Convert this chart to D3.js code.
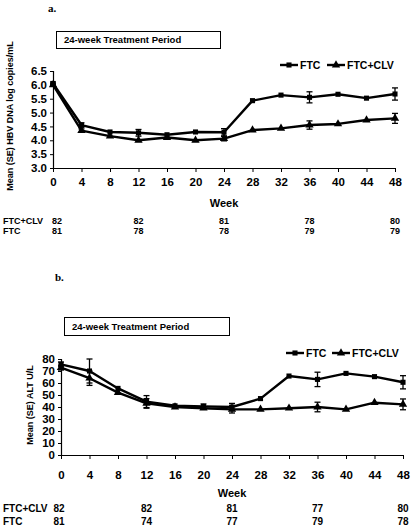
<!DOCTYPE html>
<html><head><meta charset="utf-8">
<script src="https://cdn.jsdelivr.net/npm/d3@7"></script>
<style>
html,body{margin:0;padding:0;background:#fff;}
svg{display:block;font-family:"Liberation Sans",Arial,sans-serif;}
</style></head>
<body>
<svg id="c" width="413" height="530"></svg>
<script>
// ---------- DATA ----------
const weeks = [0,4,8,12,16,20,24,28,32,36,40,44,48];
const seriesNames = ["FTC","FTC+CLV"];

// Panel a: Mean (SE) HBV DNA log copies/mL
const hbvFTC    = [6.05,4.55,4.30,4.27,4.20,4.30,4.29,5.43,5.63,5.55,5.66,5.52,5.67];
const hbvCLV    = [6.00,4.35,4.15,4.00,4.10,4.00,4.06,4.37,4.43,4.55,4.59,4.73,4.79];
const hbvFTCse  = [0.05,0.08,null,0.12,null,null,0.13,null,null,0.20,null,null,0.22];
const hbvCLVse  = [0.04,0.06,null,null,null,null,0.08,null,null,0.15,null,null,0.18];
const hbvTicks  = [3.0,3.5,4.0,4.5,5.0,5.5,6.0,6.5];

// Panel b: Mean (SE) ALT U/L
const altFTC    = [75.5,70,55.5,44.5,41,40.5,40,47,65.8,63,68,65.3,60.6];
const altCLV    = [72.8,64,52,43,40,39,38,38,39,40,38,43.6,42.2];
const altFTCse  = [2,10,null,5,null,2,3,null,null,6,null,null,5.5];
const altCLVse  = [2,6,null,4,null,null,3,null,null,4,null,null,4.5];
const altTicks  = [0,10,20,30,40,50,60,70,80];

const xTicks = weeks;
const nWeeks = [0,12,24,36,48];
const nA_CLV = [82,82,81,78,80];
const nA_FTC = [81,78,78,79,79];
const nB_CLV = [82,82,81,77,80];
const nB_FTC = [81,74,77,79,78];

// ---------- DRAW ----------
const svg = d3.select("#c");

function panel(cfg){
  const g = svg.append("g");
  const x = d3.scaleLinear().domain([0,48]).range(cfg.xr);
  const y = d3.scaleLinear().domain(cfg.yd).range(cfg.yr);

  // panel letter
  g.append("text").attr("x",cfg.letter[0]).attr("y",cfg.letter[1])
    .attr("font-family","'Liberation Serif','Times New Roman',serif")
    .attr("font-weight","bold").attr("font-size",11).text(cfg.letterText);

  // title box
  g.append("rect").attr("x",cfg.box[0]+0.5).attr("y",cfg.box[1]+0.5)
    .attr("width",cfg.box[2]).attr("height",cfg.box[3])
    .attr("fill","#fff").attr("stroke","#000").attr("stroke-width",1);
  g.append("text").attr("x",cfg.box[0]+8).attr("y",cfg.box[1]+cfg.box[3]/2+3.5)
    .attr("font-weight","bold").attr("font-size",9.5).text("24-week Treatment Period");

  // axes
  const yAxis = d3.axisLeft(y).tickValues(cfg.yTicks).tickSize(3).tickPadding(3)
    .tickFormat(cfg.yFmt);
  const ya = g.append("g").attr("transform",`translate(${cfg.xr[0]},0)`).call(yAxis);
  ya.select(".domain").attr("stroke","#000").attr("stroke-width",1.2);
  ya.selectAll("text").attr("font-weight","bold").attr("font-size",11.5)
    .attr("font-family","'Liberation Sans',Arial,sans-serif").attr("fill","#000");

  const xAxis = d3.axisBottom(x).tickValues(xTicks).tickSize(4).tickPadding(cfg.xPad)
    .tickSizeOuter(0);
  const xa = g.append("g").attr("transform",`translate(0,${cfg.yr[0]})`).call(xAxis);
  xa.select(".domain").attr("stroke","#000").attr("stroke-width",1.2);
  xa.selectAll("text").attr("font-weight","bold").attr("font-size",11.5)
    .attr("font-family","'Liberation Sans',Arial,sans-serif").attr("fill","#000");

  // axis titles
  g.append("text").attr("transform",`translate(${cfg.ytPos[0]},${cfg.ytPos[1]}) rotate(-90)`)
    .attr("text-anchor","middle").attr("font-weight","bold").attr("font-size",9)
    .text(cfg.yTitle);
  g.append("text").attr("x",x(24)).attr("y",cfg.weekY).attr("text-anchor","middle")
    .attr("font-weight","bold").attr("font-size",11).text("Week");

  // series
  const data = [
    {name:seriesNames[0], v:cfg.ftc, se:cfg.ftcSe, sym:d3.symbolSquare, size:26},
    {name:seriesNames[1], v:cfg.clv, se:cfg.clvSe, sym:d3.symbolTriangle, size:30}
  ];
  const line = d3.line().x((d,i)=>x(weeks[i])).y(d=>y(d));
  data.forEach(s=>{
    g.append("path").datum(s.v).attr("d",line).attr("fill","none")
      .attr("stroke","#000").attr("stroke-width",2.4).attr("stroke-linejoin","round");
    // error bars
    s.se.forEach((e,i)=>{
      if(e==null) return;
      const cx = x(weeks[i]), y1 = y(s.v[i]+e), y2 = y(s.v[i]-e);
      g.append("line").attr("x1",cx).attr("x2",cx).attr("y1",y1).attr("y2",y2)
        .attr("stroke","#000").attr("stroke-width",1.3);
      [y1,y2].forEach(yy=>g.append("line").attr("x1",cx-3).attr("x2",cx+3)
        .attr("y1",yy).attr("y2",yy).attr("stroke","#000").attr("stroke-width",1.3));
    });
    g.selectAll(null).data(s.v).enter().append("path")
      .attr("transform",(d,i)=>`translate(${x(weeks[i])},${y(d)})`)
      .attr("d",d3.symbol().type(s.sym).size(s.size)).attr("fill","#000");
  });

  // legend
  data.forEach((s,k)=>{
    const lx = cfg.leg[k], ly = cfg.legY;
    g.append("line").attr("x1",lx).attr("x2",lx+18).attr("y1",ly).attr("y2",ly)
      .attr("stroke","#000").attr("stroke-width",2.4);
    g.append("path").attr("transform",`translate(${lx+9},${ly})`)
      .attr("d",d3.symbol().type(s.sym).size(s.size)).attr("fill","#000");
    g.append("text").attr("x",lx+20).attr("y",ly+4).attr("font-weight","bold")
      .attr("font-size",10.5).text(s.name);
  });

  // number at risk
  const rows = [[seriesNames[1],cfg.nCLV,cfg.nY[0]],[seriesNames[0],cfg.nFTC,cfg.nY[1]]];
  rows.forEach(r=>{
    g.append("text").attr("x",3).attr("y",r[2]).attr("font-weight","bold")
      .attr("font-size",cfg.nFont).text(r[0]);
    g.selectAll(null).data(r[1]).enter().append("text")
      .attr("x",(d,i)=>x(nWeeks[i]) + (i===0?cfg.n0dx:0)).attr("y",r[2]).attr("text-anchor","middle")
      .attr("font-weight","bold").attr("font-size",cfg.nFont).text(d=>d);
  });
}

panel({
  letterText:"a.", letter:[48,12],
  box:[56,31,164,17],
  xr:[53,395], yd:[3,6.5], yr:[168,71],
  yTicks:hbvTicks, yFmt:d3.format(".1f"), xPad:6,
  yTitle:"Mean (SE) HBV DNA log copies/mL", ytPos:[13,116],
  weekY:207,
  ftc:hbvFTC, clv:hbvCLV, ftcSe:hbvFTCse, clvSe:hbvCLVse,
  leg:[280,327], legY:65,
  nCLV:nA_CLV, nFTC:nA_FTC, nY:[224,234], nFont:9, n0dx:4
});

panel({
  letterText:"b.", letter:[55,281],
  box:[64,317,165,18],
  xr:[61,403], yd:[0,80], yr:[455,359],
  yTicks:altTicks, yFmt:d3.format("d"), xPad:12,
  yTitle:"Mean (SE) ALT U/L", ytPos:[33,405],
  weekY:497,
  ftc:altFTC, clv:altCLV, ftcSe:altFTCse, clvSe:altCLVse,
  leg:[286,332], legY:353,
  nCLV:nB_CLV, nFTC:nB_FTC, nY:[512,525], nFont:10, n0dx:-2
});
</script>
</body></html>
